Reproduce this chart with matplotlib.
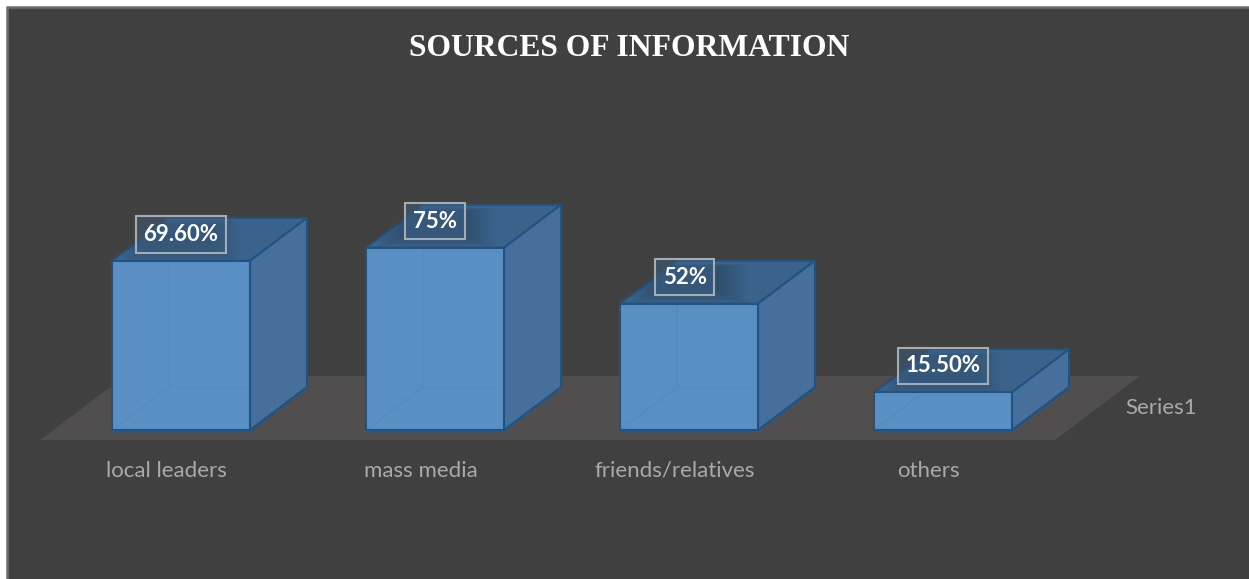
import matplotlib
matplotlib.use("Agg")
import matplotlib.pyplot as plt
from matplotlib.patches import Polygon, Rectangle
from matplotlib.transforms import Affine2D

categories = ["local leaders", "mass media", "friends/relatives", "others"]
values = [69.6, 75, 52, 15.5]
value_labels = ["69.60%", "75%", "52%", "15.50%"]
series_name = "Series1"
title = "SOURCES OF INFORMATION"

W, H = 1249, 579
BG = "#404040"
FLOOR = "#504e4e"
FRONT = "#5a8fc3"
SIDE = "#46709b"
TOP = "#3b628a"
EDGE = "#1f5383"
TXT = "#a9a9a9"

# one category step is 254 px, one percent is 2.43 px
STEP, PCT = 254.0, 2.43
LEFT, BASE = 112.0, 430.0
BAR_W = 138 / STEP
DX, DY = 57 / STEP, 43 / PCT

fig = plt.figure(figsize=(W / 100, H / 100), dpi=100, facecolor="white")
ax = fig.add_axes([0, 0, 1, 1])
ax.set_xlim(-LEFT / STEP, (W - LEFT) / STEP)
ax.set_ylim(-(H - BASE) / PCT, BASE / PCT)
ax.axis("off")

# pixel coordinates measured from the top left, for the panel furniture
px = Affine2D().scale(1, -1).translate(0, H)

ax.add_patch(Rectangle((6.5, 7), W, H, transform=px, fc=BG, ec="#6e6e6e", lw=1.8, zorder=0))
ax.add_patch(Polygon([(40, 440), (1055, 440), (1140, 376), (125, 376)], transform=px,
                     fc=FLOOR, ec="none", zorder=1))


def draw_bar(x, v):
    x2 = x + BAR_W
    # top and side faces first, front on top of them
    top = Polygon([(x, v), (x2, v), (x2 + DX, v + DY), (x + DX, v + DY)], closed=True,
                  fc=TOP, ec=EDGE, lw=1.5, joinstyle="round", zorder=3)
    ax.add_patch(top)
    ax.add_patch(Polygon([(x2, 0), (x2 + DX, DY), (x2 + DX, v + DY), (x2, v)], closed=True,
                         fc=SIDE, ec=EDGE, lw=1.5, joinstyle="round", zorder=3))
    # soft shadow of the label box on the top face
    cx = x + BAR_W / 2
    for k in range(9):
        hw = (58 - 3 * k) / STEP
        sh = Rectangle((cx - hw, v + (k * 1.2) / PCT), 2 * hw, (40 - 1.5 * k) / PCT,
                       fc="#1e3040", ec="none", alpha=0.04, zorder=3.2)
        ax.add_patch(sh)
        sh.set_clip_path(top)
    # hidden back edges showing faintly through the front face
    ax.add_patch(Polygon([(x, 0), (x2, 0), (x2, v), (x, v)], closed=True,
                         fc=FRONT, ec="none", zorder=4))
    if v > DY:
        ax.plot([x + DX, x + DX, x], [v - 1, DY, 0], color="#5187bf", lw=1.0, alpha=0.6, zorder=4.1)
        ax.plot([x + DX, x2], [DY, DY], color="#5288bf", lw=0.8, alpha=0.4, zorder=4.1)
    else:
        ax.plot([x, x + v / DY * DX], [0, v], color="#5187bf", lw=1.0, alpha=0.6, zorder=4.1)
    ax.add_patch(Polygon([(x, 0), (x2, 0), (x2, v), (x, v)], closed=True,
                         fc="none", ec=EDGE, lw=1.5, joinstyle="round", zorder=4.2))


label_nudge = [0, 0, -3, 0]
for i, (name, v, lab) in enumerate(zip(categories, values, value_labels)):
    draw_bar(i, v)
    ax.annotate(lab, (i + BAR_W / 2, v), xytext=(label_nudge[i], 19), textcoords="offset points",
                ha="center", va="center", color="white", fontsize=16, fontweight="bold",
                family="Lato", zorder=6,
                bbox=dict(boxstyle="square,pad=0.34", fc=(0.24, 0.38, 0.52, 0.45),
                          ec="#a3adb5", lw=1.5))
    ax.annotate(name, (i + BAR_W / 2, 0), xytext=(-10.5, -29.5), textcoords="offset points",
                ha="center", va="center", color=TXT, fontsize=16, family="Lato", zorder=5)

ax.text(1161, 408, series_name, transform=px, ha="center", va="center", color=TXT,
        fontsize=16, family="Lato", zorder=5)
ax.text(629.5, 48, title, transform=px, ha="center", va="center", color="white",
        fontsize=22.8, fontweight="bold", family="Liberation Serif", zorder=5)

fig.savefig("out.png", dpi=100, facecolor="white")
